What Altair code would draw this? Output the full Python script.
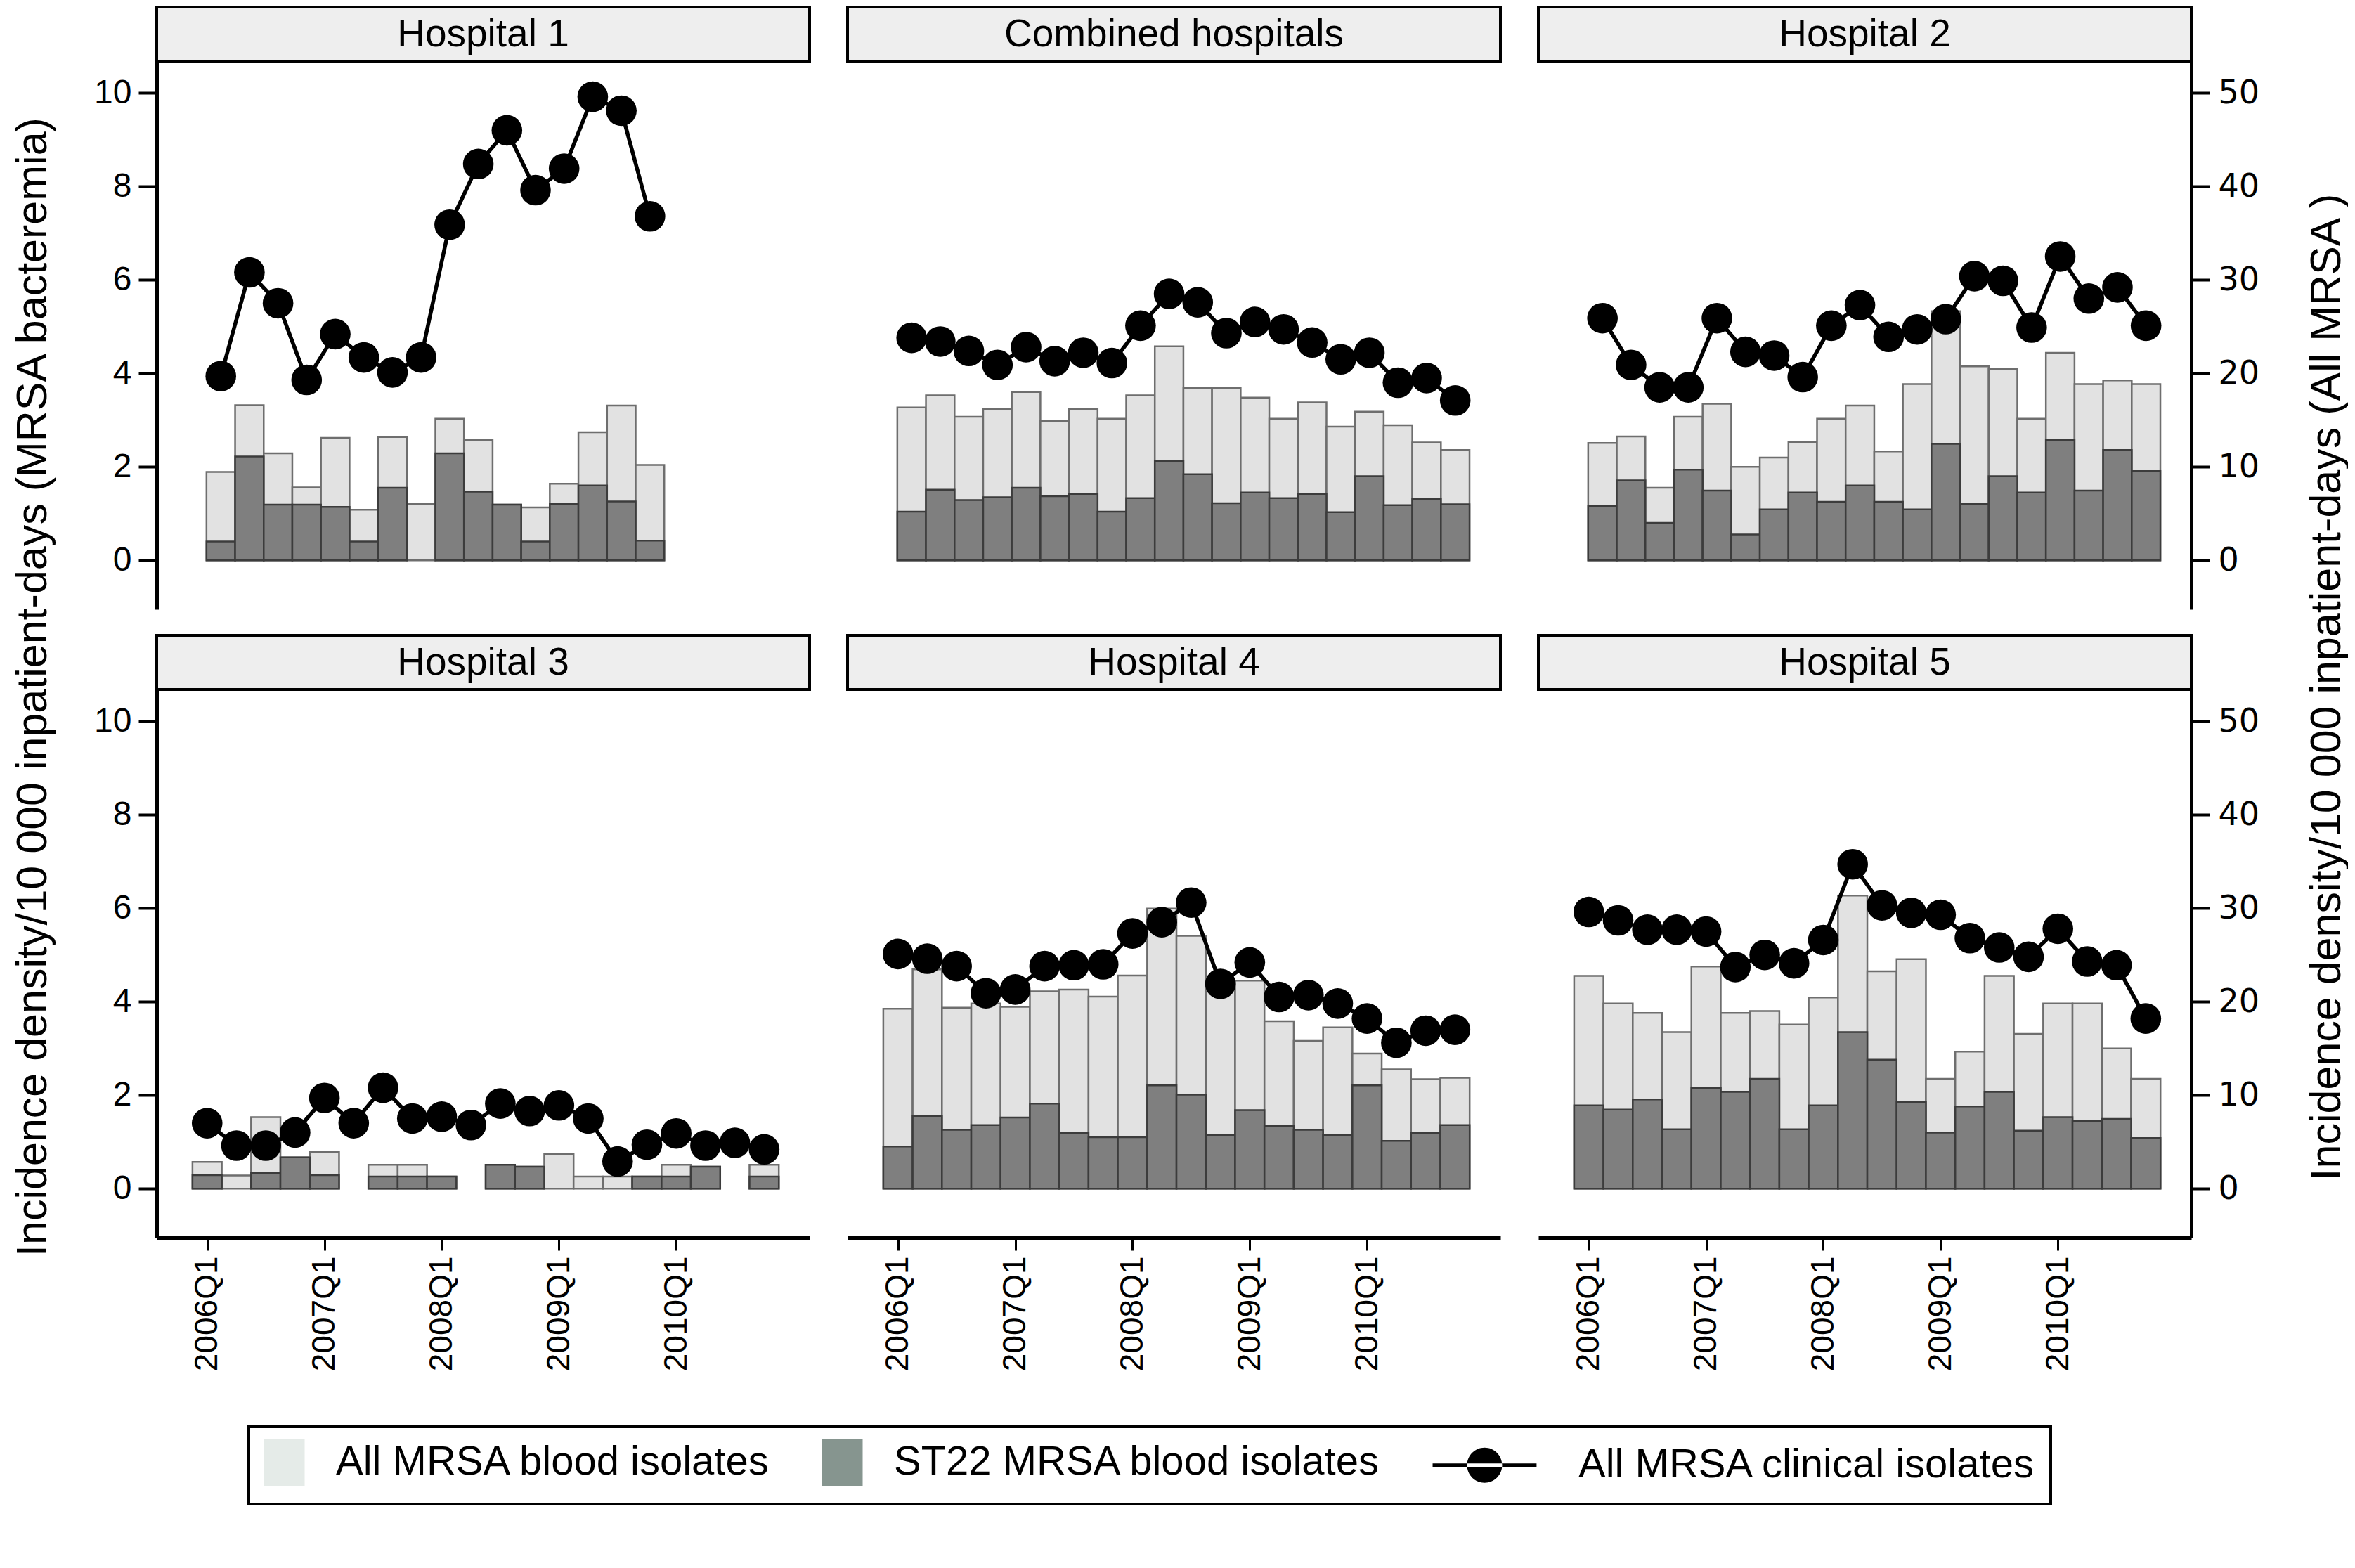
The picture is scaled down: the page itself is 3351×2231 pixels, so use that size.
import json
import altair as alt
import pandas as pd

# ---------------- data ----------------
QUARTERS = ["2006Q1", "2006Q2", "2006Q3", "2006Q4",
            "2007Q1", "2007Q2", "2007Q3", "2007Q4",
            "2008Q1", "2008Q2", "2008Q3", "2008Q4",
            "2009Q1", "2009Q2", "2009Q3", "2009Q4",
            "2010Q1", "2010Q2", "2010Q3", "2010Q4"]
TICK_LABELS = ["2006Q1", "2007Q1", "2008Q1", "2009Q1", "2010Q1"]
TICK_INDEX = [0, 4, 8, 12, 16]
LEFT_TICKS = [0, 2, 4, 6, 8, 10]
RIGHT_TICKS = [0, 10, 20, 30, 40, 50]
LEGEND_LABELS = ["All MRSA blood isolates", "ST22 MRSA blood isolates", "All MRSA clinical isolates"]
LEFT_TITLE = "Incidence density/10 000 inpatient-days (MRSA bacteremia)"
RIGHT_TITLE = "Incidence density/10 000 inpatient-days (All MRSA )"

# All MRSA blood isolates (left axis), ST22 MRSA blood isolates (left axis), All MRSA clinical isolates (right axis)
H1_ALL = [1.89, 3.32, 2.29, 1.56, 2.62, 1.08, 2.64, 1.21, 3.03, 2.57, 1.19, 1.13, 1.64, 2.74, 3.31, 2.04]
H1_ST22 = [0.40, 2.22, 1.19, 1.19, 1.14, 0.40, 1.55, 0.00, 2.29, 1.47, 1.19, 0.40, 1.21, 1.60, 1.26, 0.42]
H1_CLIN = [19.7, 30.8, 27.5, 19.3, 24.2, 21.7, 20.1, 21.7, 35.9, 42.4, 46.0, 39.6, 41.9, 49.6, 48.1, 36.8]

CB_ALL = [3.27, 3.53, 3.07, 3.24, 3.60, 2.98, 3.24, 3.03, 3.53, 4.58, 3.69, 3.69, 3.48, 3.03, 3.38, 2.86, 3.18, 2.89, 2.52, 2.36]
CB_ST22 = [1.04, 1.51, 1.29, 1.35, 1.55, 1.37, 1.42, 1.04, 1.33, 2.12, 1.84, 1.22, 1.45, 1.33, 1.42, 1.03, 1.80, 1.18, 1.31, 1.20]
CB_CLIN = [23.8, 23.4, 22.4, 20.9, 22.8, 21.3, 22.2, 21.1, 25.1, 28.5, 27.6, 24.3, 25.5, 24.7, 23.3, 21.5, 22.2, 19.0, 19.5, 17.1]

H2_ALL = [2.51, 2.65, 1.55, 3.07, 3.35, 2.00, 2.20, 2.53, 3.03, 3.31, 2.33, 3.77, 5.33, 4.15, 4.09, 3.03, 4.44, 3.77, 3.85, 3.77]
H2_ST22 = [1.16, 1.71, 0.80, 1.94, 1.49, 0.55, 1.09, 1.45, 1.25, 1.60, 1.25, 1.09, 2.49, 1.21, 1.80, 1.45, 2.57, 1.49, 2.36, 1.91]
H2_CLIN = [25.9, 20.9, 18.5, 18.5, 25.9, 22.3, 21.9, 19.6, 25.1, 27.3, 23.9, 24.7, 25.8, 30.4, 29.9, 24.9, 32.5, 28.0, 29.2, 25.1]

H3_ALL = [0.57, 0.28, 1.53, 0.67, 0.78, 0.00, 0.51, 0.51, 0.26, 0.00, 0.51, 0.47, 0.74, 0.26, 0.26, 0.26, 0.51, 0.47, 0.00, 0.51]
H3_ST22 = [0.29, 0.00, 0.33, 0.67, 0.29, 0.00, 0.26, 0.26, 0.26, 0.00, 0.51, 0.47, 0.00, 0.00, 0.00, 0.26, 0.26, 0.47, 0.00, 0.26]
H3_CLIN = [7.0, 4.6, 4.6, 6.0, 9.7, 7.0, 10.8, 7.5, 7.7, 6.8, 9.1, 8.3, 8.9, 7.5, 2.9, 4.7, 5.9, 4.6, 4.9, 4.2]

H4_ALL = [3.85, 4.69, 3.87, 3.96, 3.89, 4.22, 4.26, 4.11, 4.56, 5.99, 5.41, 4.30, 4.45, 3.58, 3.16, 3.45, 2.89, 2.55, 2.34, 2.37]
H4_ST22 = [0.90, 1.55, 1.26, 1.36, 1.52, 1.82, 1.19, 1.10, 1.10, 2.21, 2.01, 1.15, 1.68, 1.34, 1.26, 1.14, 2.21, 1.02, 1.19, 1.36]
H4_CLIN = [25.1, 24.6, 23.8, 20.9, 21.3, 23.8, 23.9, 24.0, 27.3, 28.5, 30.6, 21.9, 24.2, 20.5, 20.7, 19.8, 18.2, 15.6, 16.9, 17.0]

H5_ALL = [4.55, 3.96, 3.76, 3.35, 4.75, 3.76, 3.80, 3.51, 4.09, 6.27, 4.65, 4.91, 2.35, 2.93, 4.55, 3.31, 3.96, 3.96, 3.00, 2.35]
H5_ST22 = [1.78, 1.69, 1.91, 1.27, 2.15, 2.07, 2.35, 1.27, 1.78, 3.35, 2.76, 1.85, 1.20, 1.76, 2.07, 1.24, 1.53, 1.45, 1.49, 1.08]
H5_CLIN = [29.6, 28.7, 27.7, 27.7, 27.5, 23.7, 25.0, 24.1, 26.6, 34.7, 30.3, 29.5, 29.3, 26.8, 25.8, 24.8, 27.8, 24.3, 23.9, 18.2]

PANELS = [["Hospital 1", "Combined hospitals", "Hospital 2"],
          ["Hospital 3", "Hospital 4", "Hospital 5"]]
SERIES = {
    "Hospital 1": (H1_ALL, H1_ST22, H1_CLIN),
    "Combined hospitals": (CB_ALL, CB_ST22, CB_CLIN),
    "Hospital 2": (H2_ALL, H2_ST22, H2_CLIN),
    "Hospital 3": (H3_ALL, H3_ST22, H3_CLIN),
    "Hospital 4": (H4_ALL, H4_ST22, H4_CLIN),
    "Hospital 5": (H5_ALL, H5_ST22, H5_CLIN),
}

records = []
for name, (a_vals, s_vals, c_vals) in SERIES.items():
    for i, (va, vs, vc) in enumerate(zip(a_vals, s_vals, c_vals)):
        records.append({"panel": name, "quarter": QUARTERS[i], "q": i,
                        "allb": va, "st22": vs, "clin": vc})
df = pd.DataFrame(records)

# ---------------- style ----------------
FONT = "Liberation Sans"
WIDE_FONT = "DejaVu Sans"
W = 929
HEADER_H = 77
PLOT_H = 780
TOTAL_H = HEADER_H + PLOT_H
LEFT_DOM = [-1.05, 10.68]
RIGHT_DOM = [-5.25, 53.4]
XDOM = {0: [-2.24, 20.58], 1: [-1.72, 20.55]}
LIGHT_FILL, LIGHT_STROKE = "#E2E2E2", "#6E6E6E"
DARK_FILL, DARK_STROKE = "#7F7F7F", "#3C3C3C"
HEADER_FILL = "#EEEEEE"
LEG_COLORS = ["#E5EBE8", "#86958F", "#000000"]
SQ = "M-1,-1.15L1,-1.15L1,1.15L-1,1.15Z"
LINE_DOT = ("M-4.62,-0.09L0.48,-0.09L0.48,0.09L-4.62,0.09Z"
            "M-2.93,0A0.86,0.86 0 1,0 -1.21,0A0.86,0.86 0 1,0 -2.93,0Z")
LEG_SHAPES = [SQ, SQ, LINE_DOT]
TITLE_SIZE = 61

LABEL_EXPR = json.dumps(TICK_LABELS) + "[round(datum.value / 4)]"

LEG = alt.Legend(title=None, orient="none", legendX=131, legendY=2020,
                 direction="horizontal", columns=3, columnPadding=66,
                 labelFont=FONT, labelFontSize=58, labelColor="black",
                 labelOffset=43, labelLimit=3000, symbolSize=3364,
                 symbolStrokeColor="black", symbolStrokeWidth=3, symbolOpacity=1,
                 padding=20, strokeColor="black", fillColor="white")


def make_panel(name, row, col):
    d = df[df.panel == name]
    xs = alt.Scale(domain=XDOM[row], nice=False, zero=False)
    if row == 1:
        xaxis = alt.Axis(values=TICK_INDEX, labelExpr=LABEL_EXPR, labelAngle=270,
                         tickSize=18, tickWidth=3, domainWidth=5, labelFont=FONT,
                         labelFontSize=46, labelPadding=8, grid=False, title=None)
    else:
        xaxis = None
    ls = alt.Scale(domain=LEFT_DOM, range=[TOTAL_H, HEADER_H], nice=False, zero=False)
    rs = alt.Scale(domain=RIGHT_DOM, range=[TOTAL_H, HEADER_H], nice=False, zero=False)
    laxis = None
    if col == 0:
        kw = dict(values=LEFT_TICKS, tickSize=26, tickWidth=4, domainWidth=5,
                  labelFont=FONT, labelFontSize=48, labelPadding=10, grid=False)
        if row == 0:
            laxis = alt.Axis(title=LEFT_TITLE, titleX=-176, titleY=967, titleAngle=270,
                             titleAlign="center", titleBaseline="middle",
                             titleFont=FONT, titleFontSize=TITLE_SIZE, titleFontWeight="normal",
                             titleColor="black", **kw)
        else:
            laxis = alt.Axis(title=None, **kw)
    raxis = None
    if col == 2:
        kw = dict(orient="right", values=RIGHT_TICKS, tickSize=26, tickWidth=4,
                  domainWidth=5, labelFont=WIDE_FONT, labelFontSize=46,
                  labelPadding=12, grid=False)
        if row == 0:
            raxis = alt.Axis(title=RIGHT_TITLE, titleX=193, titleY=967, titleAngle=270,
                             titleAlign="center", titleBaseline="middle",
                             titleFont=FONT, titleFontSize=TITLE_SIZE, titleFontWeight="normal",
                             titleColor="black", **kw)
        else:
            raxis = alt.Axis(title=None, **kw)

    hd = alt.Chart(pd.DataFrame({"label": [name]}))
    hrect = hd.mark_rect(fill=HEADER_FILL, stroke="black", strokeWidth=4).encode(
        x=alt.value(0), x2=alt.value(W), y=alt.value(0), y2=alt.value(HEADER_H))
    htext = hd.mark_text(font=FONT, fontSize=55, color="black",
                         align="center", baseline="middle").encode(
        text="label:N", x=alt.value(W / 2), y=alt.value(HEADER_H / 2))

    base = alt.Chart(d).transform_calculate(x0="datum.q - 0.5", x1="datum.q + 0.5")
    light = base.transform_filter("datum.allb > 0").mark_bar(
        fill=LIGHT_FILL, stroke=LIGHT_STROKE, strokeWidth=2.5
    ).encode(
        x=alt.X("x0:Q", scale=xs, axis=xaxis), x2="x1:Q",
        y=alt.Y("allb:Q", scale=ls, axis=laxis), y2=alt.datum(0),
    )
    dark = base.transform_filter("datum.st22 > 0").mark_bar(
        fill=DARK_FILL, stroke=DARK_STROKE, strokeWidth=2.5
    ).encode(
        x=alt.X("x0:Q", scale=xs, axis=xaxis), x2="x1:Q",
        y=alt.Y("st22:Q", scale=ls, axis=laxis), y2=alt.datum(0),
    )
    line = alt.Chart(d).mark_line(color="black", strokeWidth=5.5).encode(
        x=alt.X("q:Q", scale=xs, axis=xaxis),
        y=alt.Y("clin:Q", scale=rs, axis=raxis),
    )
    pts = alt.Chart(d).mark_circle(size=1900, color="black", opacity=1).encode(
        x=alt.X("q:Q", scale=xs, axis=xaxis),
        y=alt.Y("clin:Q", scale=rs, axis=raxis),
    )
    layers = [hrect, htext, alt.layer(light, dark), alt.layer(line, pts)]
    if row == 0 and col == 0:
        legend_pts = alt.Chart(pd.DataFrame({"series": LEGEND_LABELS})).mark_point(
            filled=True, opacity=0, size=3364, stroke="black", strokeWidth=3
        ).encode(
            color=alt.Color("series:N", scale=alt.Scale(domain=LEGEND_LABELS, range=LEG_COLORS), legend=LEG),
            shape=alt.Shape("series:N", scale=alt.Scale(domain=LEGEND_LABELS, range=LEG_SHAPES), legend=LEG),
        )
        layers.append(legend_pts)
    return alt.layer(*layers).resolve_scale(y="independent").properties(width=W, height=TOTAL_H)


panels = [make_panel(n, r, c) for r, names in enumerate(PANELS) for c, n in enumerate(names)]

chart = alt.concat(*panels, columns=3, spacing={"row": 37, "column": 54}, bounds="flush").properties(
    padding={"left": 7, "top": 0, "right": 0, "bottom": 0}
).configure_view(strokeWidth=0).configure_axis(
    domainColor="black", tickColor="black", labelColor="black", grid=False
).configure_legend(strokeWidth=4)

chart.save("out.html", embed_options={"renderer": "svg", "actions": False})
